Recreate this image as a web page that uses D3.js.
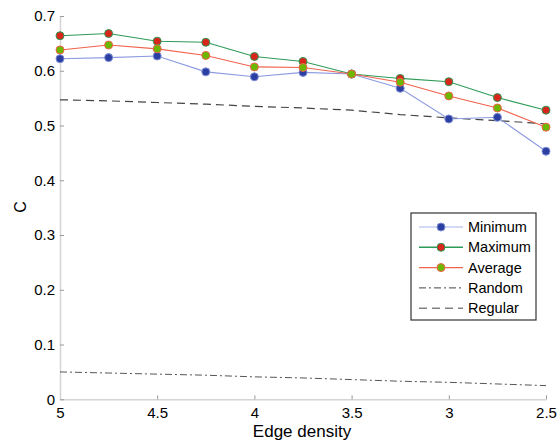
<!DOCTYPE html>
<html>
<head>
<meta charset="utf-8">
<script src="https://cdn.jsdelivr.net/npm/d3@7"></script>
<style>
  body { margin: 0; background: #fff; }
  svg { display: block; font-family: "Liberation Sans", Arial, sans-serif; }
</style>
</head>
<body>
<svg id="chart" width="558" height="446"></svg>
<script>
// edge density values (x axis runs from 5 down to 2.5)
var density = [5, 4.75, 4.5, 4.25, 4, 3.75, 3.5, 3.25, 3, 2.75, 2.5];
var minimum = [0.622, 0.624, 0.627, 0.598, 0.589, 0.597, 0.594, 0.568, 0.512, 0.515, 0.453];
var maximum = [0.664, 0.668, 0.654, 0.652, 0.626, 0.617, 0.594, 0.586, 0.580, 0.551, 0.528];
var average = [0.638, 0.647, 0.640, 0.628, 0.607, 0.606, 0.594, 0.579, 0.554, 0.532, 0.497];
var randomC = [0.050, 0.048, 0.046, 0.044, 0.041, 0.039, 0.036, 0.033, 0.031, 0.028, 0.025];
var regularC = [0.547, 0.545, 0.542, 0.539, 0.535, 0.532, 0.528, 0.520, 0.514, 0.509, 0.503];
var xTicks = [5, 4.5, 4, 3.5, 3, 2.5];
var yTicks = [0, 0.1, 0.2, 0.3, 0.4, 0.5, 0.6, 0.7];

var svg = d3.select('#chart');
var x = d3.scaleLinear().domain([5, 2.5]).range([60, 546]);
var y = d3.scaleLinear().domain([0, 0.7]).range([399.3, 16]);

/** axes **/
var xAxis = svg.append('g').attr('transform', 'translate(0,399.3)')
    .call(d3.axisBottom(x).tickValues(xTicks).tickFormat(d3.format('')).tickSizeInner(-4).tickSizeOuter(0).tickPadding(8));
var yAxis = svg.append('g').attr('transform', 'translate(60,0)')
    .call(d3.axisLeft(y).tickValues(yTicks).tickFormat(d3.format('')).tickSizeInner(-4).tickSizeOuter(0).tickPadding(5));
[xAxis, yAxis].forEach(function(ax) {
    ax.select('.domain').attr('stroke', '#d4d4d4').attr('stroke-width', 1.5);
    ax.selectAll('.tick line').attr('stroke', '#999');
    ax.selectAll('.tick text').attr('fill', '#000').attr('font-size', '15px')
        .attr('font-family', '"Liberation Sans", Arial, sans-serif');
});

svg.append('text').text('Edge density')
    .attr('x', 302).attr('y', 437)
    .attr('text-anchor', 'middle').attr('font-size', '17px').attr('fill', '#000');
svg.append('text').text('C')
    .attr('transform', 'translate(26,207) rotate(-90)')
    .attr('text-anchor', 'middle').attr('font-size', '16px').attr('fill', '#000');

/** reference lines **/
var line = d3.line().x(function(d) { return x(d[0]); }).y(function(d) { return y(d[1]); });
function pairs(vals) {
    return density.map(function(d, i) { return [d, vals[i]]; });
}

svg.append('path').datum(pairs(randomC))
    .attr('d', line).attr('fill', 'none')
    .attr('stroke', '#555').attr('stroke-width', 1).attr('stroke-dasharray', '7,3,2,3');
svg.append('path').datum(pairs(regularC))
    .attr('d', line).attr('fill', 'none')
    .attr('stroke', '#444').attr('stroke-width', 1.2).attr('stroke-dasharray', '8,5');

/** measured series **/
var seriesList = [
    {name: 'Minimum', values: minimum, line: '#8c9be0', fill: '#2b3fa3', edge: '#7f8fd6'},
    {name: 'Maximum', values: maximum, line: '#2e9a57', fill: '#d8261c', edge: '#2e9a57'},
    {name: 'Average', values: average, line: '#f0624c', fill: '#6cb800', edge: '#f0624c'}
];

seriesList.forEach(function(s) {
    svg.append('path').datum(pairs(s.values))
        .attr('d', line).attr('fill', 'none')
        .attr('stroke', s.line).attr('stroke-width', 1.1);
    svg.selectAll(null).data(pairs(s.values)).enter()
        .append('circle')
        .attr('cx', function(d) { return x(d[0]); })
        .attr('cy', function(d) { return y(d[1]); })
        .attr('r', 4)
        .attr('fill', s.fill)
        .attr('stroke', s.edge)
        .attr('stroke-width', 1);
});

/** legend **/
var legend = svg.append('g').attr('transform', 'translate(411,213)');
legend.append('rect').attr('width', 125).attr('height', 107)
    .attr('fill', '#fff').attr('stroke', '#333').attr('stroke-width', 1.2);
var legendItems = seriesList.map(function(s) { return {name: s.name, s: s}; })
    .concat([{name: 'Random', dash: '7,3,2,3'}, {name: 'Regular', dash: '8,5'}]);
legendItems.forEach(function(item, i) {
    var ly = 14 + i * 20.3;
    var g = legend.append('g').attr('transform', 'translate(0,' + ly + ')');
    g.append('line').attr('x1', 8).attr('x2', 52).attr('y1', 0).attr('y2', 0)
        .attr('stroke', item.s ? (item.name === 'Minimum' ? '#c5ccf0' : item.s.line) : '#444')
        .attr('stroke-width', item.s ? 1.4 : 1)
        .attr('stroke-dasharray', item.dash || null);
    if (item.s) {
        g.append('circle').attr('cx', 30).attr('cy', 0).attr('r', 4)
            .attr('fill', item.s.fill).attr('stroke', item.s.edge);
    }
    g.append('text').text(item.name)
        .attr('x', 57).attr('y', 5)
        .attr('font-size', '14.5px').attr('fill', '#000');
});
</script>
</body>
</html>
